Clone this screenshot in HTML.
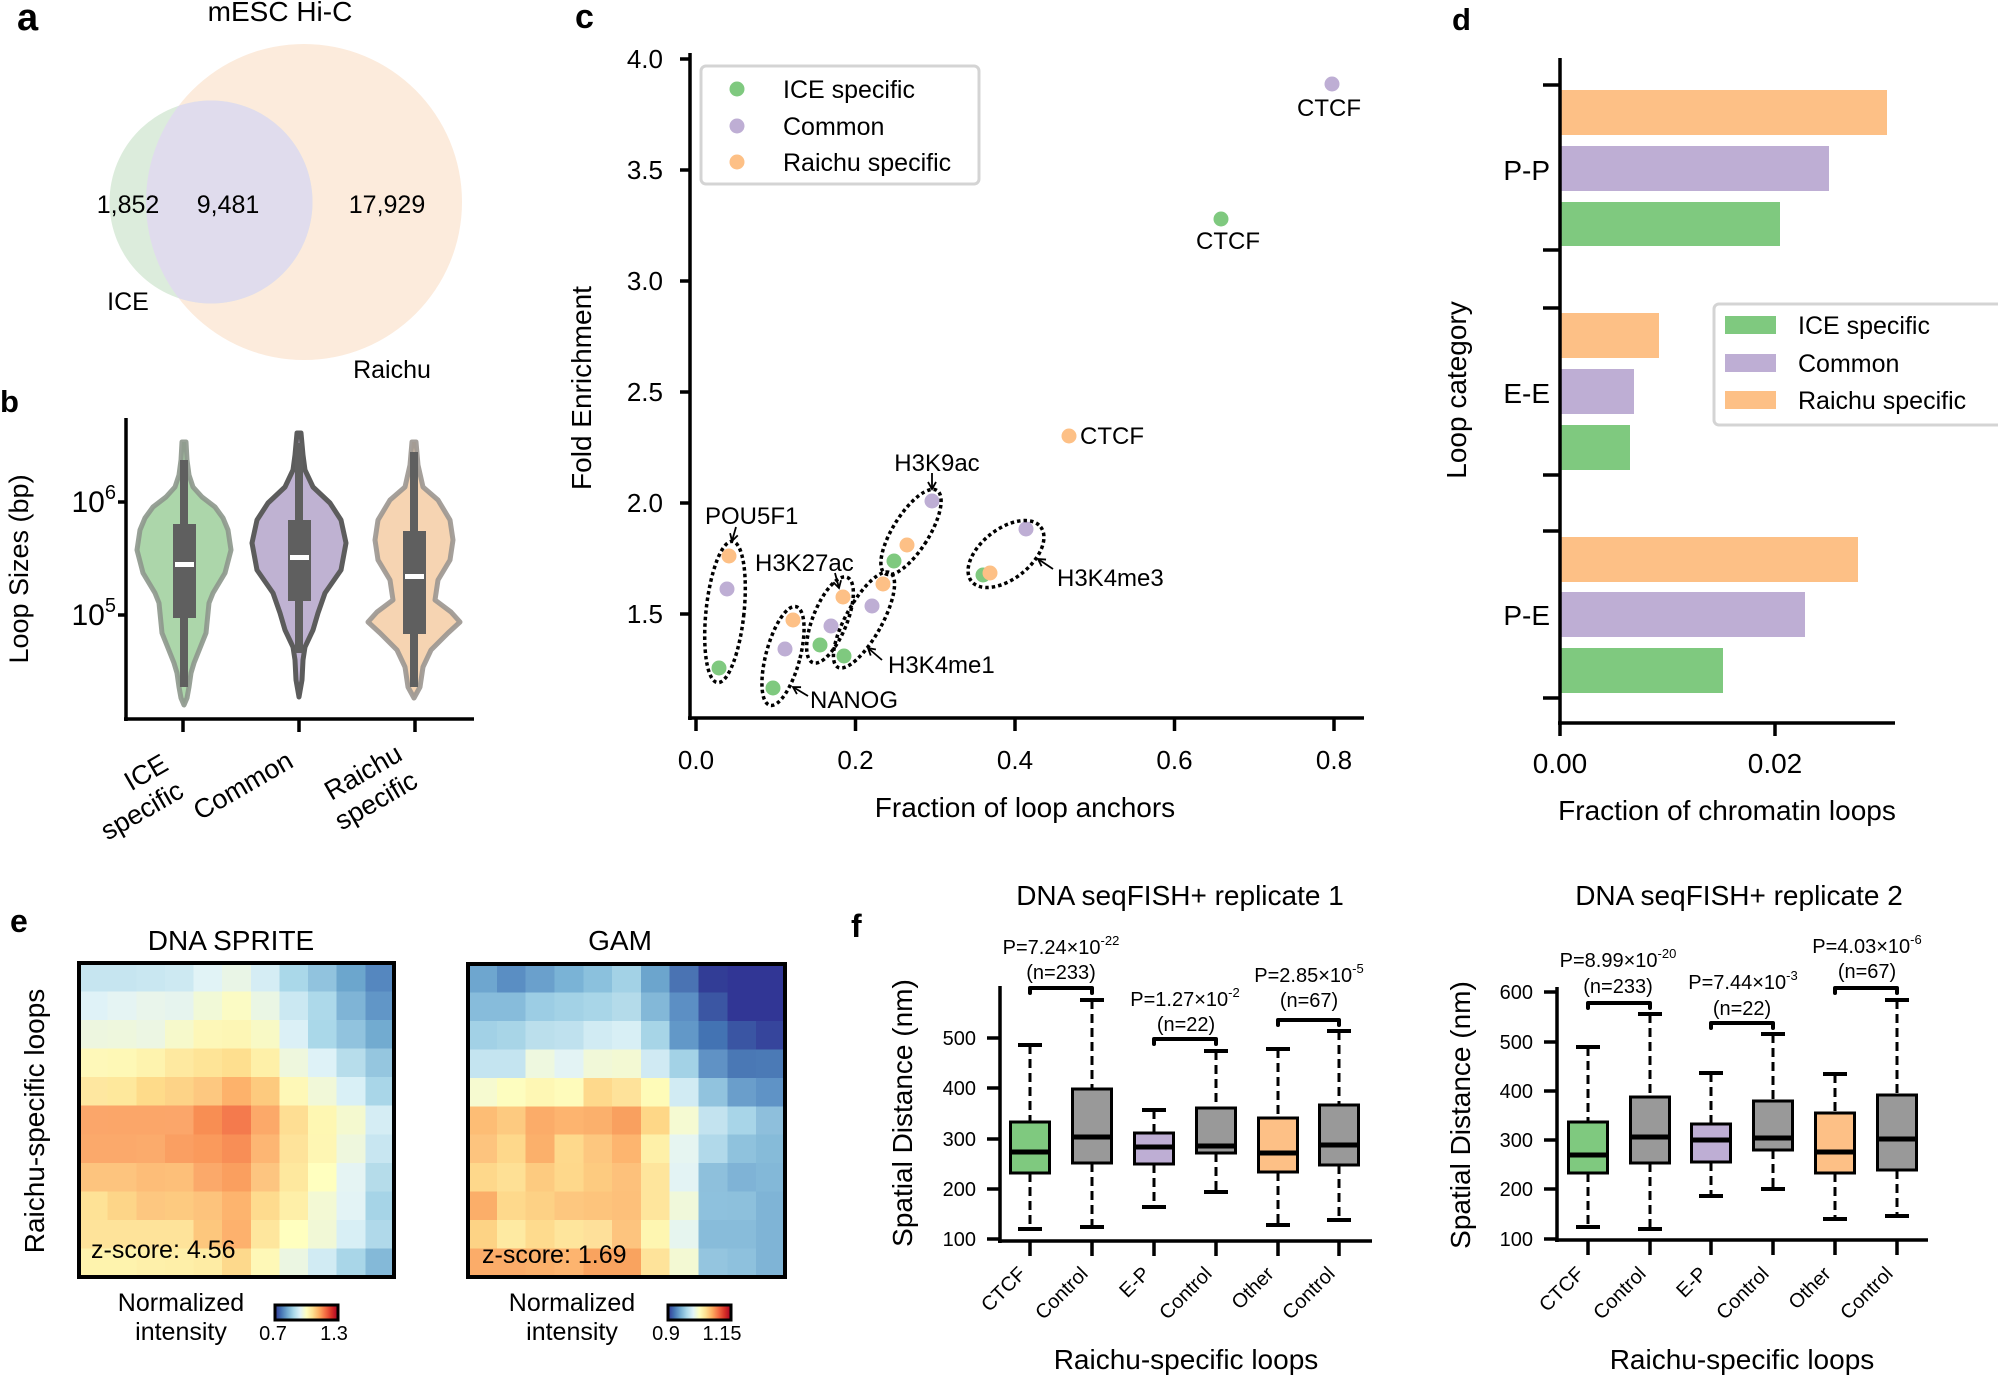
<!DOCTYPE html>
<html><head><meta charset="utf-8"><style>
html,body{margin:0;padding:0;background:#fff;}
svg{display:block;}
text{font-family:"Liberation Sans",Arial,sans-serif;fill:#000;}
</style></head><body>
<svg width="1998" height="1376" viewBox="0 0 1998 1376" xmlns="http://www.w3.org/2000/svg">
<defs>
<clipPath id="clipOr"><circle cx="304" cy="202" r="158"/></clipPath>
<marker id="ar" markerWidth="10" markerHeight="10" refX="8" refY="5" orient="auto" markerUnits="userSpaceOnUse">
<path d="M1,1 L8,5 L1,9" fill="none" stroke="#000" stroke-width="1.8"/></marker>
<linearGradient id="cmap" x1="0" x2="1" y1="0" y2="0">
<stop offset="0" stop-color="#313695"/><stop offset="0.1" stop-color="#4575b4"/><stop offset="0.2" stop-color="#74add1"/><stop offset="0.3" stop-color="#abd9e9"/><stop offset="0.4" stop-color="#e0f3f8"/><stop offset="0.5" stop-color="#ffffbf"/><stop offset="0.6" stop-color="#fee090"/><stop offset="0.7" stop-color="#fdae61"/><stop offset="0.8" stop-color="#f46d43"/><stop offset="0.9" stop-color="#d73027"/><stop offset="1" stop-color="#a50026"/>
</linearGradient>
</defs>
<rect width="1998" height="1376" fill="#fff"/>

<!-- ===== Panel a ===== -->
<text x="17" y="30" font-size="38" font-weight="bold">a</text>
<text x="280" y="21" font-size="28" text-anchor="middle">mESC Hi-C</text>
<circle cx="304" cy="202" r="158" fill="#fcebdc"/>
<circle cx="211" cy="202" r="101.5" fill="#dcecdc"/>
<circle cx="211" cy="202" r="101.5" fill="#e0dced" clip-path="url(#clipOr)"/>
<text x="128" y="213" font-size="25" text-anchor="middle">1,852</text>
<text x="228" y="213" font-size="25" text-anchor="middle">9,481</text>
<text x="387" y="213" font-size="25" text-anchor="middle">17,929</text>
<text x="128" y="310" font-size="25" text-anchor="middle">ICE</text>
<text x="392" y="378" font-size="25" text-anchor="middle">Raichu</text>

<!-- ===== Panel b ===== -->
<text x="0" y="412" font-size="31" font-weight="bold">b</text>
<polygon points="186,442 187,460 189,475 193,487 202,497 215,507 223,518 228,530 231,550 225,573 213,593 209,603 208,613 206,633 202,643 198,653 194,663 191,673 189,687 187,698 184,705 181,698 179,687 177,673 174,663 170,653 166,643 162,633 160,613 159,603 155,593 143,573 137,550 140,530 145,518 153,507 166,497 175,487 179,475 181,460 182,442" fill="#acd6aa" stroke="#8d978c" stroke-width="5" stroke-linejoin="round" stroke-opacity="0.9"/>
<polygon points="301,433 303,455 305,470 313,487 330,503 341,520 346,543 341,570 325,593 318,613 313,630 305,647 303,660 302,680 299,697 296,680 295,660 293,647 285,630 280,613 273,593 257,570 252,543 257,520 268,503 285,487 293,470 295,455 297,433" fill="#bfb2d2" stroke="#5c5c5c" stroke-width="5" stroke-linejoin="round"/>
<polygon points="416,442 418,465 423,487 438,500 450,520 453,540 450,560 438,580 435,600 451,612 460,622 448,633 431,650 423,667 420,687 414,698 408,687 405,667 397,650 380,633 368,622 377,612 393,600 390,580 378,560 375,540 378,520 390,500 405,487 410,465 412,442" fill="#f6d4b2" stroke="#9b9690" stroke-width="5" stroke-linejoin="round" stroke-opacity="0.9"/>
<g fill="#5f5f5f">
<rect x="180" y="460" width="8" height="227"/><rect x="173" y="524" width="23" height="94"/>
<rect x="295" y="443" width="8" height="210"/><rect x="288" y="520" width="23" height="81"/>
<rect x="410" y="452" width="8" height="235"/><rect x="403" y="531" width="23" height="103"/>
</g>
<g fill="#fff">
<rect x="175" y="562" width="19" height="5"/><rect x="290" y="555" width="19" height="5"/><rect x="405" y="574" width="19" height="5"/>
</g>
<g stroke="#000" stroke-width="3.5" fill="none">
<line x1="126" y1="418" x2="126" y2="721"/>
<line x1="124" y1="719" x2="474" y2="719"/>
<line x1="118" y1="502" x2="126" y2="502"/><line x1="118" y1="615" x2="126" y2="615"/>
<line x1="183" y1="719" x2="183" y2="732"/><line x1="299" y1="719" x2="299" y2="732"/><line x1="415" y1="719" x2="415" y2="732"/>
</g>
<text x="116" y="512" font-size="30" text-anchor="end">10<tspan font-size="20" dy="-13">6</tspan></text>
<text x="116" y="625" font-size="30" text-anchor="end">10<tspan font-size="20" dy="-13">5</tspan></text>
<text transform="translate(28,569) rotate(-90)" font-size="27" text-anchor="middle">Loop Sizes (bp)</text>
<g font-size="27" text-anchor="end">
<g transform="translate(170,769) rotate(-30)"><text x="0" y="0">ICE</text><text x="0" y="31">specific</text></g>
<g transform="translate(295,766) rotate(-30)"><text x="0" y="0">Common</text></g>
<g transform="translate(404,759) rotate(-30)"><text x="0" y="0">Raichu</text><text x="0" y="31">specific</text></g>
</g>

<!-- ===== Panel c ===== -->
<text x="575" y="28" font-size="34" font-weight="bold">c</text>
<g stroke="#000" stroke-width="3.5" fill="none">
<line x1="690" y1="53" x2="690" y2="720"/>
<line x1="688" y1="718" x2="1364" y2="718"/>
<line x1="680" y1="59" x2="690" y2="59"/><line x1="680" y1="170" x2="690" y2="170"/><line x1="680" y1="281" x2="690" y2="281"/><line x1="680" y1="392" x2="690" y2="392"/><line x1="680" y1="503" x2="690" y2="503"/><line x1="680" y1="614" x2="690" y2="614"/>
<line x1="696" y1="718" x2="696" y2="731"/><line x1="855.5" y1="718" x2="855.5" y2="731"/><line x1="1015" y1="718" x2="1015" y2="731"/><line x1="1174.5" y1="718" x2="1174.5" y2="731"/><line x1="1334" y1="718" x2="1334" y2="731"/>
</g>
<g font-size="26" text-anchor="end">
<text x="663" y="68">4.0</text><text x="663" y="179">3.5</text><text x="663" y="290">3.0</text><text x="663" y="401">2.5</text><text x="663" y="512">2.0</text><text x="663" y="623">1.5</text>
</g>
<g font-size="26" text-anchor="middle">
<text x="696" y="769">0.0</text><text x="855.5" y="769">0.2</text><text x="1015" y="769">0.4</text><text x="1174.5" y="769">0.6</text><text x="1334" y="769">0.8</text>
</g>
<text x="1025" y="817" font-size="28" text-anchor="middle">Fraction of loop anchors</text>
<text transform="translate(591,388) rotate(-90)" font-size="28" text-anchor="middle">Fold Enrichment</text>
<rect x="701" y="66" width="278" height="118" rx="5" fill="#fff" stroke="#d4d4d4" stroke-width="3"/>
<circle cx="737" cy="89" r="7.5" fill="#7fc97f"/><circle cx="737" cy="126" r="7.5" fill="#beaed4"/><circle cx="737" cy="162" r="7.5" fill="#fdc086"/>
<g font-size="25"><text x="783" y="98">ICE specific</text><text x="783" y="135">Common</text><text x="783" y="171">Raichu specific</text></g>
<!-- points -->
<g>
<circle cx="1332" cy="84" r="7.5" fill="#beaed4"/>
<circle cx="1221" cy="219" r="7.5" fill="#7fc97f"/>
<circle cx="1069" cy="436" r="7.5" fill="#fdc086"/>
<circle cx="729" cy="556" r="7.5" fill="#fdc086"/><circle cx="727" cy="589" r="7.5" fill="#beaed4"/><circle cx="719" cy="668" r="7.5" fill="#7fc97f"/>
<circle cx="793" cy="620" r="7.5" fill="#fdc086"/><circle cx="785" cy="649" r="7.5" fill="#beaed4"/><circle cx="773" cy="688" r="7.5" fill="#7fc97f"/>
<circle cx="843" cy="597" r="7.5" fill="#fdc086"/><circle cx="831" cy="626" r="7.5" fill="#beaed4"/><circle cx="820" cy="645" r="7.5" fill="#7fc97f"/>
<circle cx="883" cy="584" r="7.5" fill="#fdc086"/><circle cx="872" cy="606" r="7.5" fill="#beaed4"/><circle cx="844" cy="656" r="7.5" fill="#7fc97f"/>
<circle cx="932" cy="501" r="7.5" fill="#beaed4"/><circle cx="907" cy="545" r="7.5" fill="#fdc086"/><circle cx="894" cy="561" r="7.5" fill="#7fc97f"/>
<circle cx="1026" cy="529" r="7.5" fill="#beaed4"/><circle cx="983" cy="575" r="7.5" fill="#7fc97f"/><circle cx="990" cy="573" r="7.5" fill="#fdc086"/>
</g>
<g fill="none" stroke="#000" stroke-width="3.5" stroke-dasharray="3.5 3">
<ellipse cx="725" cy="612" rx="19" ry="71" transform="rotate(6 725 612)"/>
<ellipse cx="783" cy="656" rx="17" ry="51" transform="rotate(15 783 656)"/>
<ellipse cx="830" cy="620" rx="17" ry="46" transform="rotate(22 830 620)"/>
<ellipse cx="864" cy="620" rx="18" ry="54" transform="rotate(29 864 620)"/>
<ellipse cx="911" cy="532" rx="18" ry="49" transform="rotate(32 911 532)"/>
<ellipse cx="1006" cy="554" rx="44" ry="25" transform="rotate(-38 1006 554)"/>
</g>
<g stroke="#000" stroke-width="1.8" fill="none" marker-end="url(#ar)">
<line x1="932" y1="473" x2="932" y2="489"/>
<line x1="736" y1="527" x2="732" y2="541"/>
<line x1="835" y1="573" x2="839" y2="588"/>
<line x1="1053" y1="569" x2="1038" y2="559"/>
<line x1="882" y1="660" x2="868" y2="648"/>
<line x1="808" y1="696" x2="793" y2="687"/>
</g>
<g font-size="24">
<text x="1329" y="116" text-anchor="middle">CTCF</text>
<text x="1228" y="249" text-anchor="middle">CTCF</text>
<text x="1080" y="444">CTCF</text>
<text x="937" y="471" text-anchor="middle">H3K9ac</text>
<text x="705" y="524">POU5F1</text>
<text x="755" y="571">H3K27ac</text>
<text x="1057" y="586">H3K4me3</text>
<text x="888" y="673">H3K4me1</text>
<text x="810" y="708">NANOG</text>
</g>

<!-- ===== Panel d ===== -->
<text x="1452" y="30" font-size="31" font-weight="bold">d</text>
<g>
<rect x="1560" y="90" width="327" height="45" fill="#fdc086"/>
<rect x="1560" y="146" width="269" height="45" fill="#beaed4"/>
<rect x="1560" y="202" width="220" height="44" fill="#7fc97f"/>
<rect x="1560" y="313" width="99" height="45" fill="#fdc086"/>
<rect x="1560" y="369" width="74" height="45" fill="#beaed4"/>
<rect x="1560" y="425" width="70" height="45" fill="#7fc97f"/>
<rect x="1560" y="537" width="298" height="45" fill="#fdc086"/>
<rect x="1560" y="592" width="245" height="45" fill="#beaed4"/>
<rect x="1560" y="648" width="163" height="45" fill="#7fc97f"/>
</g>
<g stroke="#000" stroke-width="3.5" fill="none">
<line x1="1560" y1="58" x2="1560" y2="725"/>
<line x1="1558" y1="723" x2="1895" y2="723"/>
<line x1="1543" y1="85" x2="1560" y2="85"/><line x1="1543" y1="250" x2="1560" y2="250"/><line x1="1543" y1="308" x2="1560" y2="308"/><line x1="1543" y1="475" x2="1560" y2="475"/><line x1="1543" y1="531" x2="1560" y2="531"/><line x1="1543" y1="698" x2="1560" y2="698"/>
<line x1="1560" y1="723" x2="1560" y2="736"/><line x1="1775" y1="723" x2="1775" y2="736"/>
</g>
<g font-size="28" text-anchor="end"><text x="1550" y="180">P-P</text><text x="1550" y="403">E-E</text><text x="1550" y="625">P-E</text></g>
<g font-size="28" text-anchor="middle"><text x="1560" y="773">0.00</text><text x="1775" y="773">0.02</text></g>
<text x="1727" y="820" font-size="28" text-anchor="middle">Fraction of chromatin loops</text>
<text transform="translate(1466,390) rotate(-90)" font-size="28" text-anchor="middle">Loop category</text>
<rect x="1714" y="304" width="300" height="121" rx="5" fill="#fff" stroke="#d4d4d4" stroke-width="3"/>
<rect x="1725" y="316" width="51" height="18" fill="#7fc97f"/><rect x="1725" y="354" width="51" height="18" fill="#beaed4"/><rect x="1725" y="391" width="51" height="18" fill="#fdc086"/>
<g font-size="25"><text x="1798" y="334">ICE specific</text><text x="1798" y="372">Common</text><text x="1798" y="409">Raichu specific</text></g>

<!-- ===== Panel e ===== -->
<text x="10" y="932" font-size="32" font-weight="bold">e</text>
<text x="231" y="950" font-size="28" text-anchor="middle">DNA SPRITE</text>
<text x="620" y="950" font-size="28" text-anchor="middle">GAM</text>
<svg x="79" y="963" width="315" height="314" viewBox="0 0 11 11" preserveAspectRatio="none" shape-rendering="crispEdges">
<g transform="translate(0,0)"><rect x="0" width="1.05" height="1.05" fill="#c6e5f0"/><rect x="1" width="1.05" height="1.05" fill="#c6e5f0"/><rect x="2" width="1.05" height="1.05" fill="#c9e7f1"/><rect x="3" width="1.05" height="1.05" fill="#cde9f2"/><rect x="4" width="1.05" height="1.05" fill="#e1f3f6"/><rect x="5" width="1.05" height="1.05" fill="#e9f5e6"/><rect x="6" width="1.05" height="1.05" fill="#d5edf4"/><rect x="7" width="1.05" height="1.05" fill="#aad8e9"/><rect x="8" width="1.05" height="1.05" fill="#91c3de"/><rect x="9" width="1.05" height="1.05" fill="#6ca6cd"/><rect x="10" width="1.05" height="1.05" fill="#5587bf"/></g>
<g transform="translate(0,1)"><rect x="0" width="1.05" height="1.05" fill="#dff2f7"/><rect x="1" width="1.05" height="1.05" fill="#e5f4f3"/><rect x="2" width="1.05" height="1.05" fill="#e9f5eb"/><rect x="3" width="1.05" height="1.05" fill="#e6f4ee"/><rect x="4" width="1.05" height="1.05" fill="#f1f9d7"/><rect x="5" width="1.05" height="1.05" fill="#fbfbc4"/><rect x="6" width="1.05" height="1.05" fill="#eaf6e4"/><rect x="7" width="1.05" height="1.05" fill="#cbe8f2"/><rect x="8" width="1.05" height="1.05" fill="#add9ea"/><rect x="9" width="1.05" height="1.05" fill="#7fb4d6"/><rect x="10" width="1.05" height="1.05" fill="#6196c7"/></g>
<g transform="translate(0,2)"><rect x="0" width="1.05" height="1.05" fill="#edf6df"/><rect x="1" width="1.05" height="1.05" fill="#eef7dd"/><rect x="2" width="1.05" height="1.05" fill="#ecf6e3"/><rect x="3" width="1.05" height="1.05" fill="#f6f9cb"/><rect x="4" width="1.05" height="1.05" fill="#fdf7b8"/><rect x="5" width="1.05" height="1.05" fill="#fdf6b5"/><rect x="6" width="1.05" height="1.05" fill="#f8f9c5"/><rect x="7" width="1.05" height="1.05" fill="#dbf0f6"/><rect x="8" width="1.05" height="1.05" fill="#aad8e9"/><rect x="9" width="1.05" height="1.05" fill="#91c3de"/><rect x="10" width="1.05" height="1.05" fill="#72abd0"/></g>
<g transform="translate(0,3)"><rect x="0" width="1.05" height="1.05" fill="#fef8b9"/><rect x="1" width="1.05" height="1.05" fill="#fef8b6"/><rect x="2" width="1.05" height="1.05" fill="#fef3ae"/><rect x="3" width="1.05" height="1.05" fill="#fee9a0"/><rect x="4" width="1.05" height="1.05" fill="#fee497"/><rect x="5" width="1.05" height="1.05" fill="#fedf8f"/><rect x="6" width="1.05" height="1.05" fill="#fef0a8"/><rect x="7" width="1.05" height="1.05" fill="#eef7dd"/><rect x="8" width="1.05" height="1.05" fill="#def2f7"/><rect x="9" width="1.05" height="1.05" fill="#b7ddeb"/><rect x="10" width="1.05" height="1.05" fill="#95c6df"/></g>
<g transform="translate(0,4)"><rect x="0" width="1.05" height="1.05" fill="#fee7a0"/><rect x="1" width="1.05" height="1.05" fill="#fee89c"/><rect x="2" width="1.05" height="1.05" fill="#fedb8a"/><rect x="3" width="1.05" height="1.05" fill="#fdd387"/><rect x="4" width="1.05" height="1.05" fill="#fdc880"/><rect x="5" width="1.05" height="1.05" fill="#fdb26b"/><rect x="6" width="1.05" height="1.05" fill="#fdca7e"/><rect x="7" width="1.05" height="1.05" fill="#fef8b7"/><rect x="8" width="1.05" height="1.05" fill="#f1f8d8"/><rect x="9" width="1.05" height="1.05" fill="#d9f0f6"/><rect x="10" width="1.05" height="1.05" fill="#a9d6e8"/></g>
<g transform="translate(0,5)"><rect x="0" width="1.05" height="1.05" fill="#fba66a"/><rect x="1" width="1.05" height="1.05" fill="#fba669"/><rect x="2" width="1.05" height="1.05" fill="#fba669"/><rect x="3" width="1.05" height="1.05" fill="#fba66a"/><rect x="4" width="1.05" height="1.05" fill="#f88e53"/><rect x="5" width="1.05" height="1.05" fill="#f47a4d"/><rect x="6" width="1.05" height="1.05" fill="#fca969"/><rect x="7" width="1.05" height="1.05" fill="#fede93"/><rect x="8" width="1.05" height="1.05" fill="#fef7b2"/><rect x="9" width="1.05" height="1.05" fill="#f4f9cf"/><rect x="10" width="1.05" height="1.05" fill="#d5edf4"/></g>
<g transform="translate(0,6)"><rect x="0" width="1.05" height="1.05" fill="#fba96b"/><rect x="1" width="1.05" height="1.05" fill="#fba96b"/><rect x="2" width="1.05" height="1.05" fill="#fbab6c"/><rect x="3" width="1.05" height="1.05" fill="#fa9f62"/><rect x="4" width="1.05" height="1.05" fill="#fa9a5c"/><rect x="5" width="1.05" height="1.05" fill="#f88e56"/><rect x="6" width="1.05" height="1.05" fill="#fdb673"/><rect x="7" width="1.05" height="1.05" fill="#fee39a"/><rect x="8" width="1.05" height="1.05" fill="#fef6b3"/><rect x="9" width="1.05" height="1.05" fill="#eef7dd"/><rect x="10" width="1.05" height="1.05" fill="#c8e6f1"/></g>
<g transform="translate(0,7)"><rect x="0" width="1.05" height="1.05" fill="#fdc47e"/><rect x="1" width="1.05" height="1.05" fill="#fdc47e"/><rect x="2" width="1.05" height="1.05" fill="#fdbd78"/><rect x="3" width="1.05" height="1.05" fill="#fdbf79"/><rect x="4" width="1.05" height="1.05" fill="#fba96a"/><rect x="5" width="1.05" height="1.05" fill="#fa9f5f"/><rect x="6" width="1.05" height="1.05" fill="#fdc580"/><rect x="7" width="1.05" height="1.05" fill="#fee89e"/><rect x="8" width="1.05" height="1.05" fill="#ffffbf"/><rect x="9" width="1.05" height="1.05" fill="#e5f4f3"/><rect x="10" width="1.05" height="1.05" fill="#b5dcea"/></g>
<g transform="translate(0,8)"><rect x="0" width="1.05" height="1.05" fill="#fee296"/><rect x="1" width="1.05" height="1.05" fill="#fdd588"/><rect x="2" width="1.05" height="1.05" fill="#fdc780"/><rect x="3" width="1.05" height="1.05" fill="#fdca80"/><rect x="4" width="1.05" height="1.05" fill="#fdc37c"/><rect x="5" width="1.05" height="1.05" fill="#fdb46e"/><rect x="6" width="1.05" height="1.05" fill="#fedb8e"/><rect x="7" width="1.05" height="1.05" fill="#feefa8"/><rect x="8" width="1.05" height="1.05" fill="#f3f9d4"/><rect x="9" width="1.05" height="1.05" fill="#e3f3f5"/><rect x="10" width="1.05" height="1.05" fill="#a6d4e7"/></g>
<g transform="translate(0,9)"><rect x="0" width="1.05" height="1.05" fill="#fee39a"/><rect x="1" width="1.05" height="1.05" fill="#fee39a"/><rect x="2" width="1.05" height="1.05" fill="#fee39a"/><rect x="3" width="1.05" height="1.05" fill="#fee39a"/><rect x="4" width="1.05" height="1.05" fill="#fdc77d"/><rect x="5" width="1.05" height="1.05" fill="#fdb16d"/><rect x="6" width="1.05" height="1.05" fill="#fee69d"/><rect x="7" width="1.05" height="1.05" fill="#ffffbf"/><rect x="8" width="1.05" height="1.05" fill="#f1f8d6"/><rect x="9" width="1.05" height="1.05" fill="#d8eff5"/><rect x="10" width="1.05" height="1.05" fill="#b0d9ea"/></g>
<g transform="translate(0,10)"><rect x="0" width="1.05" height="1.05" fill="#fef3ad"/><rect x="1" width="1.05" height="1.05" fill="#fef3ad"/><rect x="2" width="1.05" height="1.05" fill="#fef0aa"/><rect x="3" width="1.05" height="1.05" fill="#feefa8"/><rect x="4" width="1.05" height="1.05" fill="#feeca4"/><rect x="5" width="1.05" height="1.05" fill="#fdd98c"/><rect x="6" width="1.05" height="1.05" fill="#fef8b7"/><rect x="7" width="1.05" height="1.05" fill="#ebf6e2"/><rect x="8" width="1.05" height="1.05" fill="#d1ebf3"/><rect x="9" width="1.05" height="1.05" fill="#a9d6e8"/><rect x="10" width="1.05" height="1.05" fill="#84b9d8"/></g>
</svg>
<rect x="79" y="963" width="315" height="314" fill="none" stroke="#000" stroke-width="4"/>
<svg x="468" y="964" width="317" height="313" viewBox="0 0 11 11" preserveAspectRatio="none" shape-rendering="crispEdges">
<g transform="translate(0,0)"><rect x="0" width="1.05" height="1.05" fill="#6ea6cf"/><rect x="1" width="1.05" height="1.05" fill="#5a8ec3"/><rect x="2" width="1.05" height="1.05" fill="#6aa0cc"/><rect x="3" width="1.05" height="1.05" fill="#7ab3d6"/><rect x="4" width="1.05" height="1.05" fill="#8bc1dd"/><rect x="5" width="1.05" height="1.05" fill="#a3d2e6"/><rect x="6" width="1.05" height="1.05" fill="#6ca5cd"/><rect x="7" width="1.05" height="1.05" fill="#4a73b3"/><rect x="8" width="1.05" height="1.05" fill="#323d96"/><rect x="9" width="1.05" height="1.05" fill="#313695"/><rect x="10" width="1.05" height="1.05" fill="#313695"/></g>
<g transform="translate(0,1)"><rect x="0" width="1.05" height="1.05" fill="#87bcdb"/><rect x="1" width="1.05" height="1.05" fill="#87bcdb"/><rect x="2" width="1.05" height="1.05" fill="#9ccde4"/><rect x="3" width="1.05" height="1.05" fill="#a3d2e6"/><rect x="4" width="1.05" height="1.05" fill="#a9d6e8"/><rect x="5" width="1.05" height="1.05" fill="#b4dbea"/><rect x="6" width="1.05" height="1.05" fill="#83b8d8"/><rect x="7" width="1.05" height="1.05" fill="#5c8fc4"/><rect x="8" width="1.05" height="1.05" fill="#3b56a3"/><rect x="9" width="1.05" height="1.05" fill="#313695"/><rect x="10" width="1.05" height="1.05" fill="#313695"/></g>
<g transform="translate(0,2)"><rect x="0" width="1.05" height="1.05" fill="#a2d1e6"/><rect x="1" width="1.05" height="1.05" fill="#a8d5e7"/><rect x="2" width="1.05" height="1.05" fill="#bbdfec"/><rect x="3" width="1.05" height="1.05" fill="#bfe1ee"/><rect x="4" width="1.05" height="1.05" fill="#d1ebf3"/><rect x="5" width="1.05" height="1.05" fill="#d8eff5"/><rect x="6" width="1.05" height="1.05" fill="#a7d5e7"/><rect x="7" width="1.05" height="1.05" fill="#6298c8"/><rect x="8" width="1.05" height="1.05" fill="#4373b3"/><rect x="9" width="1.05" height="1.05" fill="#3a55a3"/><rect x="10" width="1.05" height="1.05" fill="#36459c"/></g>
<g transform="translate(0,3)"><rect x="0" width="1.05" height="1.05" fill="#c4e4f0"/><rect x="1" width="1.05" height="1.05" fill="#c4e4f0"/><rect x="2" width="1.05" height="1.05" fill="#eef8df"/><rect x="3" width="1.05" height="1.05" fill="#e3f3f4"/><rect x="4" width="1.05" height="1.05" fill="#f1f8d8"/><rect x="5" width="1.05" height="1.05" fill="#f3f9d3"/><rect x="6" width="1.05" height="1.05" fill="#d0eaf3"/><rect x="7" width="1.05" height="1.05" fill="#a3d2e6"/><rect x="8" width="1.05" height="1.05" fill="#6092c5"/><rect x="9" width="1.05" height="1.05" fill="#4a78b5"/><rect x="10" width="1.05" height="1.05" fill="#4b7ab6"/></g>
<g transform="translate(0,4)"><rect x="0" width="1.05" height="1.05" fill="#f6fad0"/><rect x="1" width="1.05" height="1.05" fill="#fdfdbf"/><rect x="2" width="1.05" height="1.05" fill="#fef7b4"/><rect x="3" width="1.05" height="1.05" fill="#fefbbb"/><rect x="4" width="1.05" height="1.05" fill="#fed98c"/><rect x="5" width="1.05" height="1.05" fill="#fee29a"/><rect x="6" width="1.05" height="1.05" fill="#fefbb8"/><rect x="7" width="1.05" height="1.05" fill="#d1ebf3"/><rect x="8" width="1.05" height="1.05" fill="#91c3de"/><rect x="9" width="1.05" height="1.05" fill="#6a9ecb"/><rect x="10" width="1.05" height="1.05" fill="#5f93c6"/></g>
<g transform="translate(0,5)"><rect x="0" width="1.05" height="1.05" fill="#fdbd75"/><rect x="1" width="1.05" height="1.05" fill="#fdca80"/><rect x="2" width="1.05" height="1.05" fill="#fbac69"/><rect x="3" width="1.05" height="1.05" fill="#fdb46f"/><rect x="4" width="1.05" height="1.05" fill="#fbb06c"/><rect x="5" width="1.05" height="1.05" fill="#f9a05f"/><rect x="6" width="1.05" height="1.05" fill="#fed787"/><rect x="7" width="1.05" height="1.05" fill="#f5fad2"/><rect x="8" width="1.05" height="1.05" fill="#c3e3ef"/><rect x="9" width="1.05" height="1.05" fill="#a8d5e8"/><rect x="10" width="1.05" height="1.05" fill="#8ebfdc"/></g>
<g transform="translate(0,6)"><rect x="0" width="1.05" height="1.05" fill="#fdc47e"/><rect x="1" width="1.05" height="1.05" fill="#fed88b"/><rect x="2" width="1.05" height="1.05" fill="#fbb06b"/><rect x="3" width="1.05" height="1.05" fill="#fed98c"/><rect x="4" width="1.05" height="1.05" fill="#fdc77f"/><rect x="5" width="1.05" height="1.05" fill="#fdb56f"/><rect x="6" width="1.05" height="1.05" fill="#fef0a8"/><rect x="7" width="1.05" height="1.05" fill="#e6f5f1"/><rect x="8" width="1.05" height="1.05" fill="#b1d9ea"/><rect x="9" width="1.05" height="1.05" fill="#8fc2dd"/><rect x="10" width="1.05" height="1.05" fill="#86bbd9"/></g>
<g transform="translate(0,7)"><rect x="0" width="1.05" height="1.05" fill="#fed88b"/><rect x="1" width="1.05" height="1.05" fill="#fee095"/><rect x="2" width="1.05" height="1.05" fill="#fdcb80"/><rect x="3" width="1.05" height="1.05" fill="#fed88b"/><rect x="4" width="1.05" height="1.05" fill="#fdcb80"/><rect x="5" width="1.05" height="1.05" fill="#fdc17b"/><rect x="6" width="1.05" height="1.05" fill="#fee59c"/><rect x="7" width="1.05" height="1.05" fill="#e3f3f4"/><rect x="8" width="1.05" height="1.05" fill="#8ec0dc"/><rect x="9" width="1.05" height="1.05" fill="#7fb3d6"/><rect x="10" width="1.05" height="1.05" fill="#83b8d8"/></g>
<g transform="translate(0,8)"><rect x="0" width="1.05" height="1.05" fill="#fbae69"/><rect x="1" width="1.05" height="1.05" fill="#fed98c"/><rect x="2" width="1.05" height="1.05" fill="#fdd185"/><rect x="3" width="1.05" height="1.05" fill="#fdc77f"/><rect x="4" width="1.05" height="1.05" fill="#fdc47c"/><rect x="5" width="1.05" height="1.05" fill="#fdc07a"/><rect x="6" width="1.05" height="1.05" fill="#fee59c"/><rect x="7" width="1.05" height="1.05" fill="#f0f8da"/><rect x="8" width="1.05" height="1.05" fill="#8ec1dd"/><rect x="9" width="1.05" height="1.05" fill="#8dc0dc"/><rect x="10" width="1.05" height="1.05" fill="#7fb4d6"/></g>
<g transform="translate(0,9)"><rect x="0" width="1.05" height="1.05" fill="#fdd385"/><rect x="1" width="1.05" height="1.05" fill="#feeaa2"/><rect x="2" width="1.05" height="1.05" fill="#fedb8e"/><rect x="3" width="1.05" height="1.05" fill="#fee59c"/><rect x="4" width="1.05" height="1.05" fill="#fee09a"/><rect x="5" width="1.05" height="1.05" fill="#fdc47e"/><rect x="6" width="1.05" height="1.05" fill="#fef6b1"/><rect x="7" width="1.05" height="1.05" fill="#e6f5ef"/><rect x="8" width="1.05" height="1.05" fill="#88bcda"/><rect x="9" width="1.05" height="1.05" fill="#88bcda"/><rect x="10" width="1.05" height="1.05" fill="#7fb4d6"/></g>
<g transform="translate(0,10)"><rect x="0" width="1.05" height="1.05" fill="#fbac69"/><rect x="1" width="1.05" height="1.05" fill="#fbac69"/><rect x="2" width="1.05" height="1.05" fill="#fbb06b"/><rect x="3" width="1.05" height="1.05" fill="#fdb46f"/><rect x="4" width="1.05" height="1.05" fill="#f9a35f"/><rect x="5" width="1.05" height="1.05" fill="#f9a35f"/><rect x="6" width="1.05" height="1.05" fill="#fee39a"/><rect x="7" width="1.05" height="1.05" fill="#f3f9d3"/><rect x="8" width="1.05" height="1.05" fill="#94c5df"/><rect x="9" width="1.05" height="1.05" fill="#8ec1dd"/><rect x="10" width="1.05" height="1.05" fill="#7fb4d6"/></g>
</svg>
<rect x="468" y="964" width="317" height="313" fill="none" stroke="#000" stroke-width="4"/>
<text x="91" y="1258" font-size="25">z-score: 4.56</text>
<text x="482" y="1263" font-size="25">z-score: 1.69</text>
<text transform="translate(44,1121) rotate(-90)" font-size="28" text-anchor="middle">Raichu-specific loops</text>
<g font-size="25" text-anchor="middle">
<text x="181" y="1311">Normalized</text><text x="181" y="1340">intensity</text>
<text x="572" y="1311">Normalized</text><text x="572" y="1340">intensity</text>
</g>
<rect x="275" y="1305" width="63" height="15" fill="url(#cmap)" stroke="#000" stroke-width="3"/>
<rect x="668" y="1305" width="63" height="15" fill="url(#cmap)" stroke="#000" stroke-width="3"/>
<g font-size="20" text-anchor="middle">
<text x="273" y="1340">0.7</text><text x="334" y="1340">1.3</text>
<text x="666" y="1340">0.9</text><text x="722" y="1340">1.15</text>
</g>

<!-- ===== Panel f (rep 1) ===== -->
<text x="851" y="937" font-size="32" font-weight="bold">f</text>
<text x="1180" y="905" font-size="28" text-anchor="middle">DNA seqFISH+ replicate 1</text>
<g stroke="#000" stroke-width="3.5" fill="none">
<line x1="1000" y1="986" x2="1000" y2="1243"/>
<line x1="998" y1="1241" x2="1372" y2="1241"/>
<line x1="987" y1="1038" x2="1000" y2="1038"/><line x1="987" y1="1088" x2="1000" y2="1088"/><line x1="987" y1="1139" x2="1000" y2="1139"/><line x1="987" y1="1189" x2="1000" y2="1189"/><line x1="987" y1="1239" x2="1000" y2="1239"/>
<line x1="1030" y1="1241" x2="1030" y2="1256"/><line x1="1092" y1="1241" x2="1092" y2="1256"/><line x1="1154" y1="1241" x2="1154" y2="1256"/><line x1="1216" y1="1241" x2="1216" y2="1256"/><line x1="1278" y1="1241" x2="1278" y2="1256"/><line x1="1339" y1="1241" x2="1339" y2="1256"/>
</g>
<g font-size="20" text-anchor="end">
<text x="976" y="1045">500</text><text x="976" y="1095">400</text><text x="976" y="1146">300</text><text x="976" y="1196">200</text><text x="976" y="1246">100</text>
</g>
<text transform="translate(912,1113) rotate(-90)" font-size="28" text-anchor="middle">Spatial Distance (nm)</text>
<g font-size="20" text-anchor="end">
<text transform="translate(1027,1275) rotate(-45)">CTCF</text>
<text transform="translate(1089,1275) rotate(-45)">Control</text>
<text transform="translate(1151,1275) rotate(-45)">E-P</text>
<text transform="translate(1213,1275) rotate(-45)">Control</text>
<text transform="translate(1275,1275) rotate(-45)">Other</text>
<text transform="translate(1336,1275) rotate(-45)">Control</text>
</g>
<text x="1186" y="1369" font-size="28" text-anchor="middle">Raichu-specific loops</text>
<!-- whiskers -->
<g stroke="#000" stroke-width="3" stroke-dasharray="9 5" fill="none">
<line x1="1030" y1="1045" x2="1030" y2="1122"/><line x1="1030" y1="1173" x2="1030" y2="1229"/>
<line x1="1092" y1="1000" x2="1092" y2="1089"/><line x1="1092" y1="1163" x2="1092" y2="1227"/>
<line x1="1154" y1="1110" x2="1154" y2="1133"/><line x1="1154" y1="1164" x2="1154" y2="1207"/>
<line x1="1216" y1="1051" x2="1216" y2="1108"/><line x1="1216" y1="1153" x2="1216" y2="1192"/>
<line x1="1278" y1="1049" x2="1278" y2="1118"/><line x1="1278" y1="1172" x2="1278" y2="1225"/>
<line x1="1339" y1="1031" x2="1339" y2="1105"/><line x1="1339" y1="1165" x2="1339" y2="1220"/>
</g>
<g stroke="#000" stroke-width="4">
<line x1="1018" y1="1045" x2="1042" y2="1045"/><line x1="1018" y1="1229" x2="1042" y2="1229"/>
<line x1="1080" y1="1000" x2="1104" y2="1000"/><line x1="1080" y1="1227" x2="1104" y2="1227"/>
<line x1="1142" y1="1110" x2="1166" y2="1110"/><line x1="1142" y1="1207" x2="1166" y2="1207"/>
<line x1="1204" y1="1051" x2="1228" y2="1051"/><line x1="1204" y1="1192" x2="1228" y2="1192"/>
<line x1="1266" y1="1049" x2="1290" y2="1049"/><line x1="1266" y1="1225" x2="1290" y2="1225"/>
<line x1="1327" y1="1031" x2="1351" y2="1031"/><line x1="1327" y1="1220" x2="1351" y2="1220"/>
</g>
<g stroke="#000" stroke-width="3">
<rect x="1010.5" y="1122" width="39" height="51" fill="#7fc97f"/>
<rect x="1072.5" y="1089" width="39" height="74" fill="#999999"/>
<rect x="1134.5" y="1133" width="39" height="31" fill="#beaed4"/>
<rect x="1196.5" y="1108" width="39" height="45" fill="#999999"/>
<rect x="1258.5" y="1118" width="39" height="54" fill="#fdc086"/>
<rect x="1319.5" y="1105" width="39" height="60" fill="#999999"/>
</g>
<g stroke="#000" stroke-width="5">
<line x1="1009" y1="1152" x2="1051" y2="1152"/>
<line x1="1071" y1="1137" x2="1113" y2="1137"/>
<line x1="1133" y1="1147" x2="1175" y2="1147"/>
<line x1="1195" y1="1146" x2="1237" y2="1146"/>
<line x1="1257" y1="1153" x2="1299" y2="1153"/>
<line x1="1318" y1="1145" x2="1360" y2="1145"/>
</g>
<g stroke="#000" stroke-width="4" fill="none" stroke-linecap="round" stroke-linejoin="round">
<path d="M1030,993 L1030,988 L1092,988 L1092,993"/>
<path d="M1154,1044 L1154,1039 L1216,1039 L1216,1044"/>
<path d="M1278,1025 L1278,1020 L1339,1020 L1339,1025"/>
</g>
<g font-size="20" text-anchor="middle">
<text x="1061" y="954">P=7.24×10<tspan font-size="13" dy="-9">-22</tspan></text>
<text x="1061" y="979">(n=233)</text>
<text x="1185" y="1006">P=1.27×10<tspan font-size="13" dy="-9">-2</tspan></text>
<text x="1186" y="1031">(n=22)</text>
<text x="1309" y="982">P=2.85×10<tspan font-size="13" dy="-9">-5</tspan></text>
<text x="1309" y="1007">(n=67)</text>
</g>

<!-- ===== Panel f (rep 2) ===== -->
<text x="1739" y="905" font-size="28" text-anchor="middle">DNA seqFISH+ replicate 2</text>
<g stroke="#000" stroke-width="3.5" fill="none">
<line x1="1557" y1="987" x2="1557" y2="1242"/>
<line x1="1555" y1="1240" x2="1928" y2="1240"/>
<line x1="1544" y1="992" x2="1557" y2="992"/><line x1="1544" y1="1042" x2="1557" y2="1042"/><line x1="1544" y1="1091" x2="1557" y2="1091"/><line x1="1544" y1="1140" x2="1557" y2="1140"/><line x1="1544" y1="1189" x2="1557" y2="1189"/><line x1="1544" y1="1239" x2="1557" y2="1239"/>
<line x1="1588" y1="1240" x2="1588" y2="1255"/><line x1="1650" y1="1240" x2="1650" y2="1255"/><line x1="1711" y1="1240" x2="1711" y2="1255"/><line x1="1773" y1="1240" x2="1773" y2="1255"/><line x1="1835" y1="1240" x2="1835" y2="1255"/><line x1="1897" y1="1240" x2="1897" y2="1255"/>
</g>
<g font-size="20" text-anchor="end">
<text x="1533" y="999">600</text><text x="1533" y="1049">500</text><text x="1533" y="1098">400</text><text x="1533" y="1147">300</text><text x="1533" y="1196">200</text><text x="1533" y="1246">100</text>
</g>
<text transform="translate(1470,1115) rotate(-90)" font-size="28" text-anchor="middle">Spatial Distance (nm)</text>
<g font-size="20" text-anchor="end">
<text transform="translate(1585,1275) rotate(-45)">CTCF</text>
<text transform="translate(1647,1275) rotate(-45)">Control</text>
<text transform="translate(1708,1275) rotate(-45)">E-P</text>
<text transform="translate(1770,1275) rotate(-45)">Control</text>
<text transform="translate(1832,1275) rotate(-45)">Other</text>
<text transform="translate(1894,1275) rotate(-45)">Control</text>
</g>
<text x="1742" y="1369" font-size="28" text-anchor="middle">Raichu-specific loops</text>
<g stroke="#000" stroke-width="3" stroke-dasharray="9 5" fill="none">
<line x1="1588" y1="1047" x2="1588" y2="1122"/><line x1="1588" y1="1173" x2="1588" y2="1227"/>
<line x1="1650" y1="1014" x2="1650" y2="1097"/><line x1="1650" y1="1163" x2="1650" y2="1229"/>
<line x1="1711" y1="1073" x2="1711" y2="1124"/><line x1="1711" y1="1162" x2="1711" y2="1196"/>
<line x1="1773" y1="1034" x2="1773" y2="1101"/><line x1="1773" y1="1150" x2="1773" y2="1189"/>
<line x1="1835" y1="1074" x2="1835" y2="1113"/><line x1="1835" y1="1173" x2="1835" y2="1219"/>
<line x1="1897" y1="1000" x2="1897" y2="1095"/><line x1="1897" y1="1170" x2="1897" y2="1216"/>
</g>
<g stroke="#000" stroke-width="4">
<line x1="1576" y1="1047" x2="1600" y2="1047"/><line x1="1576" y1="1227" x2="1600" y2="1227"/>
<line x1="1638" y1="1014" x2="1662" y2="1014"/><line x1="1638" y1="1229" x2="1662" y2="1229"/>
<line x1="1699" y1="1073" x2="1723" y2="1073"/><line x1="1699" y1="1196" x2="1723" y2="1196"/>
<line x1="1761" y1="1034" x2="1785" y2="1034"/><line x1="1761" y1="1189" x2="1785" y2="1189"/>
<line x1="1823" y1="1074" x2="1847" y2="1074"/><line x1="1823" y1="1219" x2="1847" y2="1219"/>
<line x1="1885" y1="1000" x2="1909" y2="1000"/><line x1="1885" y1="1216" x2="1909" y2="1216"/>
</g>
<g stroke="#000" stroke-width="3">
<rect x="1568.5" y="1122" width="39" height="51" fill="#7fc97f"/>
<rect x="1630.5" y="1097" width="39" height="66" fill="#999999"/>
<rect x="1691.5" y="1124" width="39" height="38" fill="#beaed4"/>
<rect x="1753.5" y="1101" width="39" height="49" fill="#999999"/>
<rect x="1815.5" y="1113" width="39" height="60" fill="#fdc086"/>
<rect x="1877.5" y="1095" width="39" height="75" fill="#999999"/>
</g>
<g stroke="#000" stroke-width="5">
<line x1="1567" y1="1155" x2="1609" y2="1155"/>
<line x1="1629" y1="1137" x2="1671" y2="1137"/>
<line x1="1690" y1="1140" x2="1732" y2="1140"/>
<line x1="1752" y1="1138" x2="1794" y2="1138"/>
<line x1="1814" y1="1152" x2="1856" y2="1152"/>
<line x1="1876" y1="1139" x2="1918" y2="1139"/>
</g>
<g stroke="#000" stroke-width="4" fill="none" stroke-linecap="round" stroke-linejoin="round">
<path d="M1588,1008 L1588,1003 L1650,1003 L1650,1008"/>
<path d="M1711,1028 L1711,1023 L1773,1023 L1773,1028"/>
<path d="M1835,993 L1835,988 L1897,988 L1897,993"/>
</g>
<g font-size="20" text-anchor="middle">
<text x="1618" y="967">P=8.99×10<tspan font-size="13" dy="-9">-20</tspan></text>
<text x="1618" y="993">(n=233)</text>
<text x="1743" y="989">P=7.44×10<tspan font-size="13" dy="-9">-3</tspan></text>
<text x="1742" y="1015">(n=22)</text>
<text x="1867" y="953">P=4.03×10<tspan font-size="13" dy="-9">-6</tspan></text>
<text x="1867" y="978">(n=67)</text>
</g>
</svg>
</body></html>
